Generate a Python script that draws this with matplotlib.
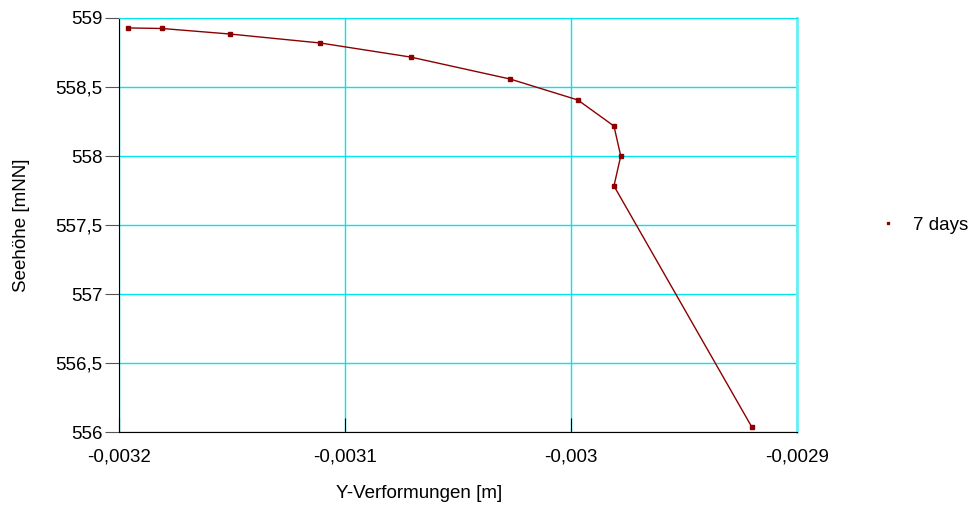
import matplotlib
matplotlib.use("Agg")
import matplotlib.pyplot as plt
from matplotlib.ticker import FuncFormatter

# Werte
verformung_y = [-0.003196, -0.003181, -0.003151, -0.003111, -0.003071, -0.003027,
                -0.002997, -0.002981, -0.002978, -0.002981, -0.002920]
seehoehe = [558.928, 558.924, 558.884, 558.819, 558.717, 558.558,
            558.406, 558.217, 558.000, 557.783, 556.036]
serie_name = "7 days"
x_ticks = [-0.0032, -0.0031, -0.0030, -0.0029]
y_ticks = [556, 556.5, 557, 557.5, 558, 558.5, 559]

plt.rcParams['font.family'] = ['Liberation Sans', 'DejaVu Sans']
fs = 13.5

fig = plt.figure(figsize=(9.74, 5.07), dpi=100)
ax = fig.add_axes([0.1222, 0.1479, 0.6961, 0.8166])

linie, = ax.plot(verformung_y, seehoehe, color='#8b0000', lw=1.0, marker='s',
                 markersize=2.2, zorder=3)

ax.set_xlim(-0.0032, -0.0029)
ax.set_ylim(556, 559)
ax.set_xticks(x_ticks)
ax.set_yticks(y_ticks)


def komma(v, pos):
    s = ('%.4f' % v).rstrip('0').rstrip('.')
    if s == '-0':
        s = '0'
    return s.replace('.', ',')


def komma_y(v, pos):
    s = ('%.1f' % v).rstrip('0').rstrip('.')
    return s.replace('.', ',')


ax.xaxis.set_major_formatter(FuncFormatter(komma))
ax.yaxis.set_major_formatter(FuncFormatter(komma_y))

ax.grid(True, color='#00e5ee', lw=1.0)
ax.set_axisbelow(True)

ax.spines['left'].set_color('black')
ax.spines['bottom'].set_color('black')
ax.spines['top'].set_color('#00e5ee')
ax.spines['right'].set_color('#66f0f5')
ax.spines['right'].set_linewidth(2)

ax.tick_params(axis='y', direction='out', length=10, color='#555555', labelsize=fs, pad=2)
ax.tick_params(axis='x', direction='in', length=10, color='black', labelsize=fs, pad=12)

ax.set_ylabel('Seehöhe [mNN]', fontsize=fs, labelpad=18)
fig.text(419 / 974, 1 - 493 / 507, 'Y-Verformungen [m]', fontsize=fs,
         ha='center', va='center')

fig.legend([linie], [serie_name], loc='center left', bbox_to_anchor=(0.885, 0.556),
           frameon=False, fontsize=fs, handlelength=1.0, handletextpad=0.8,
           markerscale=0.8)
leg = fig.legends[0]
for h in leg.legend_handles:
    h.set_linestyle('none')

fig.savefig('out.png', dpi=100)
